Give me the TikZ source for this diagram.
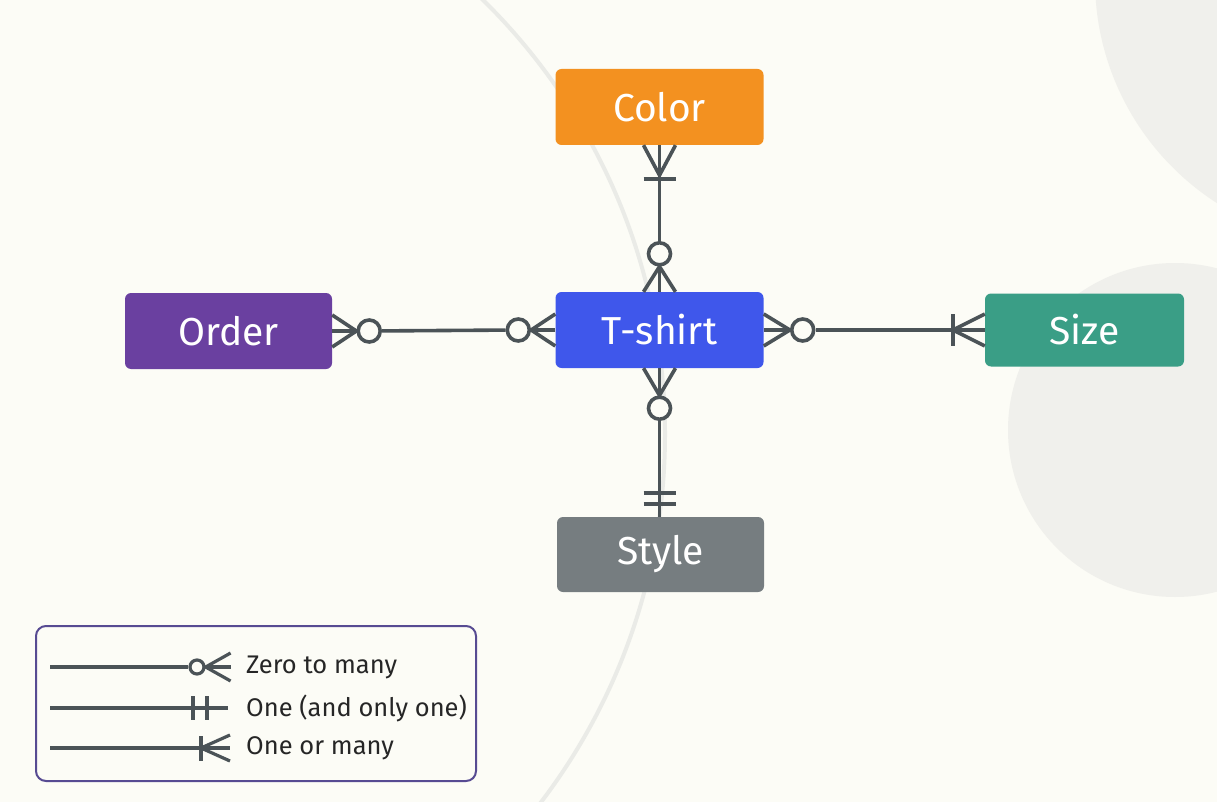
\documentclass[tikz,border=0pt]{standalone}
\usepackage{fontspec}
\setmainfont{Fira Sans}
\usetikzlibrary{calc}
\definecolor{bgc}{HTML}{FCFCF6}
\definecolor{blobc}{HTML}{F0F0EC}
\definecolor{ringc}{HTML}{EAEBE7}
\definecolor{lnc}{HTML}{4B5357}
\definecolor{orangec}{HTML}{F39120}
\definecolor{bluec}{HTML}{3F57EB}
\definecolor{purplec}{HTML}{6A40A0}
\definecolor{tealc}{HTML}{3A9E86}
\definecolor{grayc}{HTML}{767D80}
\definecolor{legc}{HTML}{574B92}
\definecolor{txtc}{HTML}{262626}
\begin{document}
\begin{tikzpicture}[x=1pt,y=-1pt,
  ent/.style={rectangle, rounded corners=6pt, minimum width=208pt, minimum height=76pt,
    inner sep=0pt, text=white, font=\fontsize{39}{44}\selectfont},
  conn/.style={draw=lnc, line width=3.6pt},
  lconn/.style={draw=lnc, line width=3.2pt},
  zc/.style={circle, draw=lnc, line width=3.6pt, fill=bgc, minimum size=22pt, inner sep=0pt},
  lzc/.style={circle, draw=lnc, line width=3.2pt, fill=bgc, minimum size=14pt, inner sep=0pt},
  legtext/.style={anchor=west, inner sep=0pt, text=txtc, font=\fontsize{25.5}{30}\selectfont}]
\fill[bgc] (0,0) rectangle (1217,802);
\useasboundingbox (0,0) rectangle (1217,802);
\begin{scope}
  \clip (0,0) rectangle (1217,802);
  \fill[blobc] (1360,-20) circle (265pt);
  \fill[blobc] (1175,430) circle (167pt);
  \draw[ringc, line width=4pt] (56.5,434) circle (608.5pt);
\end{scope}

% entities
\node[ent, fill=orangec] (color) at (659.5,107) {Color};
\node[ent, fill=bluec] (tshirt) at (659.5,330) {T-shirt};
\node[ent, fill=purplec, minimum width=207pt] (order) at (228.5,331) {Order};
\node[ent, fill=tealc, minimum width=199pt, minimum height=73pt] (size) at (1084.5,330) {Size};
\node[ent, fill=grayc, minimum width=207pt, minimum height=75pt] (style) at (660.5,554.5) {Style};

% Color -- T-shirt
\draw[conn] (color.south) -- (tshirt.north);
\draw[conn] ($(color.south)+(-16,0)$) -- ($(color.south)+(0,30)$) -- ($(color.south)+(16,0)$);
\draw[conn] ($(color.south)+(-16,34)$) -- ($(color.south)+(16,34)$);
\node[zc] (z1) at ($(tshirt.north)+(0,-38)$) {};
\draw[conn] ($(tshirt.north)+(-16,0)$) -- (z1.south) -- ($(tshirt.north)+(16,0)$);

% Order -- T-shirt
\node[zc] (z2) at ($(order.east)+(37,0)$) {};
\node[zc] (z3) at ($(tshirt.west)+(-37,0)$) {};
\draw[conn] (z2) -- (z3);
\draw[conn] ($(order.east)+(0,-16)$) -- (z2.west) -- ($(order.east)+(0,16)$);
\draw[conn] (order.east) -- (z2.west);
\draw[conn] ($(tshirt.west)+(0,-16)$) -- (z3.east) -- ($(tshirt.west)+(0,16)$);
\draw[conn] (tshirt.west) -- (z3.east);

% T-shirt -- Size
\node[zc] (z4) at ($(tshirt.east)+(39,0)$) {};
\draw[conn] (z4) -- (size.west);
\draw[conn] ($(tshirt.east)+(0,-16)$) -- (z4.west) -- ($(tshirt.east)+(0,16)$);
\draw[conn] (tshirt.east) -- (z4.west);
\draw[conn] ($(size.west)+(0,-16)$) -- ($(size.west)+(-32,0)$) -- ($(size.west)+(0,16)$);
\draw[conn] ($(size.west)+(-32,-16)$) -- ($(size.west)+(-32,16)$);

% T-shirt -- Style
\node[zc] (z5) at ($(tshirt.south)+(0,40)$) {};
\draw[conn] (z5) -- (z5 |- style.north);
\draw[conn] ($(tshirt.south)+(-16,0)$) -- (z5.north) -- ($(tshirt.south)+(16,0)$);
\draw[conn] (tshirt.south) -- (z5.north);
\draw[conn] ($(z5 |- style.north)+(-16,-24)$) -- ($(z5 |- style.north)+(16,-24)$);
\draw[conn] ($(z5 |- style.north)+(-16,-13)$) -- ($(z5 |- style.north)+(16,-13)$);

% legend
\node[draw=legc, line width=2pt, rounded corners=10pt, fill=bgc,
  minimum width=440pt, minimum height=155pt, inner sep=0pt] (legend) at (256,703.5) {};
% row 1: zero to many
\coordinate (l1a) at (50,667);
\node[lzc] (lz) at (197,667) {};
\draw[lconn] (l1a) -- (lz);
\draw[lconn] ($(lz.east)+(25,-14)$) -- (lz.east) -- ($(lz.east)+(25,14)$);
\draw[lconn] (lz.east) -- ($(lz.east)+(25,0)$);
\node[legtext] (t1) at (246,667) {Zero to many};
% row 2: one and only one
\coordinate (l2a) at (50,708);
\coordinate (l2b) at (228,708);
\draw[lconn] (l2a) -- (l2b);
\draw[lconn] (193,696) -- (193,720);
\draw[lconn] (207,696) -- (207,720);
\node[legtext] (t2) at (246,708) {One (and only one)};
% row 3: one or many
\coordinate (l3a) at (50,748);
\coordinate (l3b) at (201,748);
\draw[lconn] (l3a) -- (l3b);
\draw[lconn] (230,735) -- (l3b) -- (230,761);
\draw[lconn] (l3b) -- (230,748);
\draw[lconn] (201,736) -- (201,761);
\node[legtext] (t3) at (246,748) {One or many};
\end{tikzpicture}
\end{document}
